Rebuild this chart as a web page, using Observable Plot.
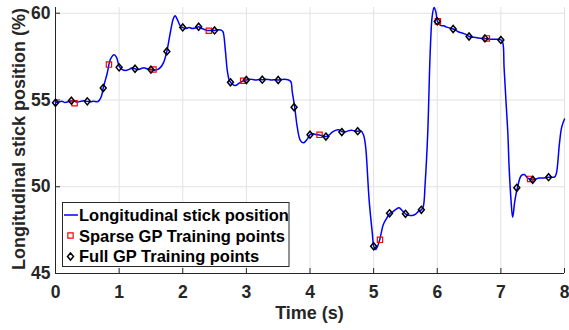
<!DOCTYPE html>
<html><head><meta charset="utf-8">
<script src="https://cdn.jsdelivr.net/npm/d3@7"></script>
<script src="https://cdn.jsdelivr.net/npm/@observablehq/plot@0.6"></script>
<style>body{margin:0;background:#fff;}</style>
</head><body><div id="chart"></div>
<script>
// Blue curve: longitudinal stick position
const curveT = [0.00,0.05,0.10,0.15,0.20,0.25,0.30,0.35,0.40,0.45,0.50,0.55,0.60,0.65,0.68,0.72,0.75,0.78,0.81,0.865,0.92,0.96,1.00,1.05,1.10,1.15,1.20,1.25,1.30,1.35,1.40,1.45,1.50,1.55,1.60,1.65,1.70,1.75,1.81,1.85,1.88,1.91,1.97,2.00,2.05,2.10,2.15,2.20,2.25,2.30,2.35,2.40,2.45,2.50,2.55,2.60,2.63,2.67,2.70,2.73,2.75,2.80,2.83,2.88,2.95,3.00,3.05,3.10,3.15,3.20,3.25,3.30,3.35,3.40,3.45,3.50,3.55,3.60,3.65,3.70,3.72,3.76,3.80,3.85,3.90,3.96,4.00,4.05,4.10,4.15,4.20,4.25,4.30,4.35,4.40,4.45,4.50,4.55,4.60,4.65,4.70,4.75,4.80,4.84,4.86,4.88,4.93,4.98,5.00,5.03,5.06,5.10,5.15,5.20,5.25,5.30,5.35,5.40,5.45,5.50,5.55,5.61,5.66,5.71,5.75,5.78,5.81,5.85,5.89,5.92,5.95,5.98,6.00,6.05,6.10,6.15,6.20,6.25,6.30,6.35,6.40,6.45,6.50,6.55,6.60,6.65,6.70,6.75,6.80,6.85,6.90,6.95,7.00,7.03,7.05,7.08,7.11,7.13,7.16,7.185,7.22,7.26,7.32,7.37,7.42,7.46,7.50,7.55,7.60,7.65,7.70,7.75,7.80,7.84,7.87,7.92,7.955,8.00];
const curveV = [54.84,54.88,54.93,54.86,54.90,54.96,54.92,54.88,54.93,54.95,54.92,54.90,54.93,54.90,54.95,55.20,55.69,56.10,56.50,57.36,57.61,57.45,56.95,56.75,56.70,56.75,56.85,56.80,56.75,56.82,56.85,56.78,56.75,56.72,56.75,56.88,57.17,57.80,58.99,59.67,59.86,59.67,59.22,59.18,59.12,59.18,59.12,59.15,59.22,59.12,59.05,59.00,59.02,59.01,59.05,59.03,58.95,57.84,56.69,56.15,56.02,55.86,55.83,55.95,56.10,56.15,56.20,56.18,56.15,56.18,56.17,56.20,56.18,56.15,56.17,56.15,56.18,56.20,56.17,56.05,55.50,54.58,53.43,52.66,52.53,52.76,53.00,53.05,53.00,52.98,52.92,52.89,52.98,53.15,53.25,53.28,53.18,53.15,53.22,53.25,53.22,53.20,53.22,53.00,52.70,52.10,49.20,47.30,46.60,46.38,46.55,47.00,47.80,48.15,48.45,48.55,48.70,48.79,48.62,48.44,48.36,48.34,48.42,48.60,48.67,48.85,50.20,53.05,57.84,59.80,60.33,60.05,59.55,59.30,59.28,59.20,59.15,59.09,59.00,58.90,58.85,58.78,58.66,58.62,58.60,58.57,58.55,58.55,58.52,58.50,58.50,58.50,58.46,58.30,56.90,54.96,53.05,51.10,49.20,48.24,49.20,49.94,50.64,50.70,50.50,50.45,50.40,50.45,50.50,50.50,50.52,50.55,50.55,50.55,50.74,52.47,53.42,53.90];

// Sparse GP training points (red squares)
const sparseT = [0.30,0.84,1.54,2.41,2.95,4.15,5.10,6.01,6.78,7.46];
const sparseV = [54.81,57.04,56.76,58.99,56.11,52.99,46.94,59.53,58.55,50.45];

// Full GP training points (black diamonds)
const fullT = [0,0.25,0.5,0.75,1.0,1.25,1.5,1.75,2.0,2.25,2.5,2.75,3.0,3.25,3.5,3.75,4.0,4.25,4.5,4.75,5.0,5.25,5.5,5.75,6.0,6.25,6.5,6.75,7.0,7.25,7.5,7.75];
const fullV = [54.84,54.96,54.92,55.69,56.88,56.80,56.75,57.80,59.18,59.22,59.01,56.02,56.15,56.17,56.15,54.58,53.00,52.89,53.15,53.20,46.57,48.47,48.44,48.67,59.53,59.09,58.66,58.55,58.46,49.94,50.40,50.55];

const xTicks = [0,1,2,3,4,5,6,7,8];
const yTicks = [45,50,55,60];
const xLabel = "Time (s)";
const yLabel = "Longitudinal stick position (%)";
const legendLabels = ["Longitudinal stick position","Sparse GP Training points","Full GP Training points"];

const curve = curveT.map((t,i)=>({t, v: curveV[i]}));
const sparse = sparseT.map((t,i)=>({t, v: sparseV[i]}));
const full = fullT.map((t,i)=>({t, v: fullV[i]}));

const tallDiamond = {draw(ctx, size){const r=Math.sqrt(size/Math.PI); const h=r, w=r*0.85; ctx.moveTo(0,-h); ctx.lineTo(w,0); ctx.lineTo(0,h); ctx.lineTo(-w,0); ctx.closePath();}};

const font = "'Liberation Sans', Arial, Helvetica, sans-serif";
const ink = "#262626";

const plot = Plot.plot({
  width: 569, height: 330,
  marginLeft: 55, marginRight: 5, marginTop: 7, marginBottom: 57,
  x: {domain: [0,8]},
  y: {domain: [45, 60.33]},
  style: {fontFamily: font, fontWeight: "bold", fontSize: "17.5px", color: ink, background: "white"},
  marks: [
    Plot.gridX(xTicks, {stroke: "#e2e2e2", strokeOpacity: 1}),
    Plot.gridY(yTicks, {stroke: "#e2e2e2", strokeOpacity: 1}),
    Plot.ruleX([0], {stroke: ink}),
    Plot.ruleY([45], {stroke: ink}),
    Plot.axisX(xTicks, {tickSize: 5, dy: -5, tickPadding: 12, label: null, stroke: ink}),
    Plot.axisY(yTicks, {tickSize: 5, dx: 5, tickPadding: 5, label: null, stroke: ink}),
    Plot.line(curve, {x: "t", y: "v", stroke: "#0000ff", strokeWidth: 1.5, curve: "catmull-rom"}),
    Plot.dot(sparse, {x: "t", y: "v", symbol: "square", r: 3, stroke: "#ff0000", strokeWidth: 1.2, fill: "none"}),
    Plot.dot(full, {x: "t", y: "v", symbol: tallDiamond, r: 3.5, stroke: "black", strokeWidth: 1.5, fill: "none"})
  ]
});

const svg = d3.select(plot);
svg.append("text").attr("x", 309.5).attr("y", 319).attr("text-anchor", "middle")
  .attr("font-family", font).attr("font-weight", "bold").attr("font-size", 18).attr("fill", ink).text(xLabel);
svg.append("text").attr("transform", "translate(25,139) rotate(-90)").attr("text-anchor", "middle")
  .attr("font-family", font).attr("font-weight", "bold").attr("font-size", 18).attr("fill", ink).text(yLabel);

// Legend (inside axes, lower left)
const lg = svg.append("g");
lg.append("rect").attr("x", 62.5).attr("y", 202.5).attr("width", 226.5).attr("height", 64)
  .attr("fill", "white").attr("stroke", ink).attr("stroke-width", 1);
const rows = [221, 241.7, 261.7];
lg.append("line").attr("x1", 64).attr("x2", 78).attr("y1", 215).attr("y2", 215).attr("stroke", "#0000ff").attr("stroke-width", 1.5);
lg.append("path").attr("transform", "translate(70.5,235.5)").attr("d", d3.symbol(d3.symbolSquare, Math.PI*3*3)())
  .attr("fill", "none").attr("stroke", "#ff0000").attr("stroke-width", 1.2);
lg.append("path").attr("transform", "translate(70.5,256.5)").attr("d", d3.symbol(tallDiamond, Math.PI*3.5*3.5)())
  .attr("fill", "none").attr("stroke", "black").attr("stroke-width", 1.5);
legendLabels.forEach((s, i) => {
  lg.append("text").attr("x", 79).attr("y", rows[i]).attr("text-anchor", "start").attr("font-family", font).attr("font-weight", "bold")
    .attr("font-size", 16.5).attr("fill", "black").text(s);
});

document.getElementById("chart").appendChild(plot);
</script>
</body></html>
